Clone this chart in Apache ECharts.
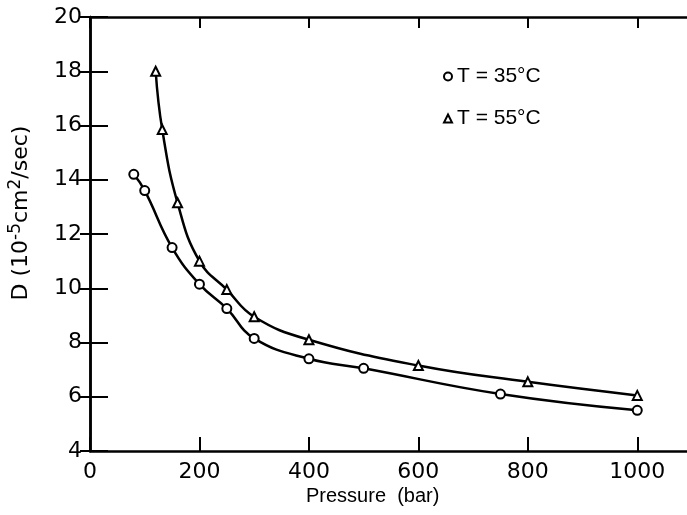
<!DOCTYPE html>
<html>
<head>
<meta charset="utf-8">
<script src="https://cdn.jsdelivr.net/npm/echarts@6/dist/echarts.min.js"></script>
<style>html,body{margin:0;padding:0;background:#fff}#c{width:687px;height:515px}</style>
</head>
<body>
<div id="c"></div>
<script>
// Data
var pressure35 = [80, 100, 150, 200, 250, 300, 400, 500, 750, 1000];
var diff35 = [14.2, 13.6, 11.5, 10.15, 9.25, 8.15, 7.4, 7.05, 6.1, 5.5];
var pressure55 = [120, 132, 160, 200, 250, 300, 400, 600, 800, 1000];
var diff55 = [18.0, 15.85, 13.15, 11.0, 9.95, 8.95, 8.1, 7.15, 6.55, 6.05];
var seriesNames = ['T = 35°C', 'T = 55°C'];
var xTicks = [0, 200, 400, 600, 800, 1000];
var yTicks = [4, 6, 8, 10, 12, 14, 16, 18, 20];

function pairs(xs, ys) { return xs.map(function (x, i) { return [x, ys[i]]; }); }

var chart = echarts.init(document.getElementById('c'), null, {renderer: 'canvas'});
var numFont = 'DejaVu Sans';
var axisLine = {show: true, lineStyle: {color: '#000', width: 2.5}};
var option = {
  backgroundColor: '#fff',
  animation: false,
  grid: {left: 90, width: 602, top: 17, bottom: 64, containLabel: false, outerBoundsMode: 'none'},
  legend: {
    orient: 'vertical', left: 438, top: 61, itemWidth: 8, itemHeight: 8, itemGap: 21,
    textStyle: {fontFamily: 'Liberation Sans', fontSize: 21, color: '#000'},
    data: [{name: seriesNames[0], icon: 'emptyCircle'}, {name: seriesNames[1], icon: 'emptyTriangle'}]
  },
  xAxis: [{
    type: 'value', position: 'bottom', min: 0, max: 1100, interval: 200,
    axisLine: axisLine,
    axisTick: {inside: true, length: 14, lineStyle: {color: '#000', width: 2}},
    axisLabel: {fontFamily: numFont, fontSize: 22, color: '#000', margin: 10,
      formatter: function (v) { return xTicks.indexOf(v) >= 0 ? String(v) : ''; }},
    splitLine: {show: false}
  }, {
    type: 'value', position: 'top', min: 0, max: 1100, interval: 200,
    axisLine: axisLine,
    axisTick: {inside: true, length: 11, lineStyle: {color: '#000', width: 2}},
    axisLabel: {show: false}, splitLine: {show: false}
  }],
  yAxis: [{
    type: 'value', position: 'left', min: 4, max: 20, interval: 2,
    axisLine: axisLine,
    axisTick: {inside: true, length: 18, lineStyle: {color: '#000', width: 2}},
    axisLabel: {fontFamily: numFont, fontSize: 22, color: '#000', margin: 8,
      formatter: function (v) { return yTicks.indexOf(v) >= 0 ? String(v) : ''; }},
    splitLine: {show: false}
  }, {
    type: 'value', position: 'right', min: 4, max: 20, interval: 2,
    axisLine: axisLine,
    axisTick: {inside: true, length: 10, lineStyle: {color: '#000', width: 2}},
    axisLabel: {show: false}, splitLine: {show: false}
  }],
  graphic: [{
    type: 'text', left: 306, top: 486,
    style: {text: 'Pressure  (bar)', fontFamily: 'Liberation Sans', fontSize: 20, fill: '#000'}
  }, {
    type: 'text', x: 21, y: 213, rotation: Math.PI / 2,
    style: {
      text: '{a|D (10}{s|-5}{a|cm}{s|2}{a|/sec)}', fill: '#000',
      align: 'center', verticalAlign: 'middle',
      rich: {
        a: {fontFamily: 'DejaVu Sans', fontSize: 22, lineHeight: 28, fill: '#000'},
        s: {fontFamily: 'DejaVu Sans', fontSize: 17, lineHeight: 17, verticalAlign: 'top', fill: '#000'}
      }
    }
  }],
  series: [{
    name: seriesNames[0], type: 'line', smooth: 0.45,
    data: pairs(pressure35, diff35),
    symbol: 'emptyCircle', symbolSize: 9,
    lineStyle: {color: '#000', width: 2.5},
    itemStyle: {color: '#000', borderWidth: 1.5}
  }, {
    name: seriesNames[1], type: 'line', smooth: 0.45,
    data: pairs(pressure55, diff55),
    symbol: 'emptyTriangle', symbolSize: 9,
    lineStyle: {color: '#000', width: 2.5},
    itemStyle: {color: '#000', borderWidth: 1.5}
  }]
};
chart.setOption(option);
</script>
</body>
</html>
